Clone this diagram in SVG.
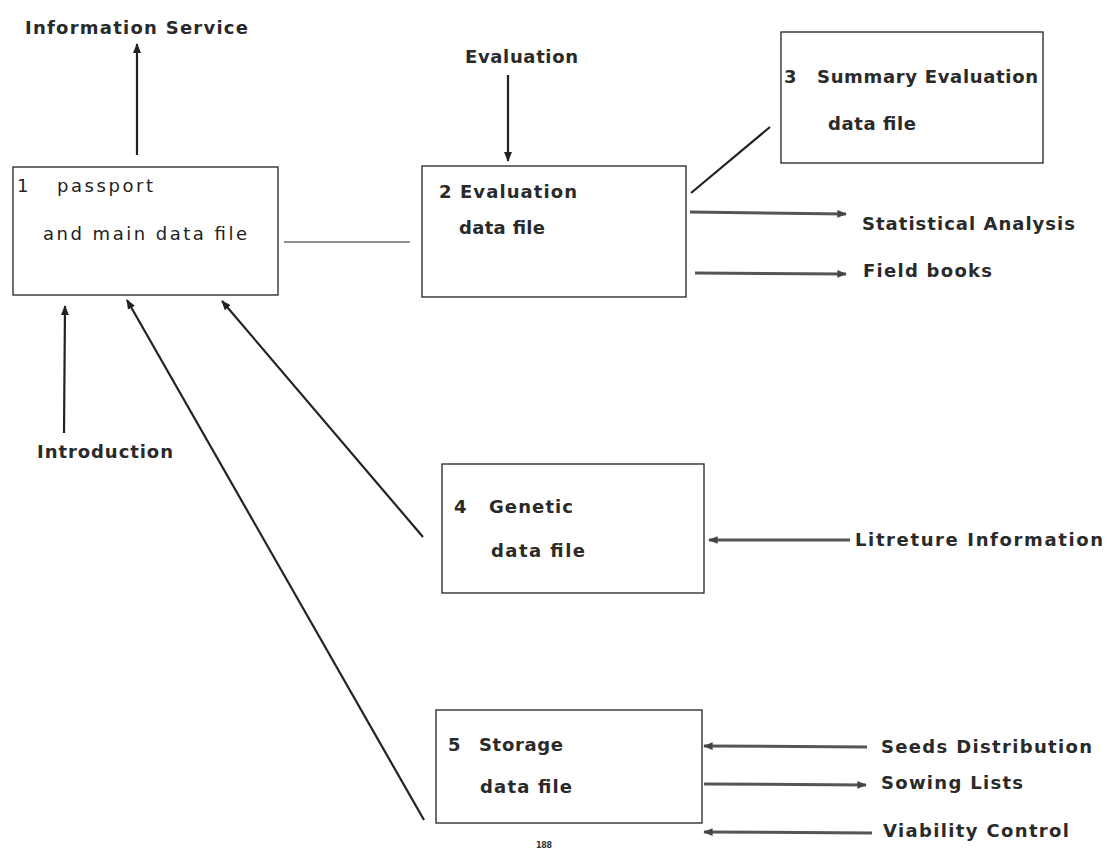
<svg xmlns="http://www.w3.org/2000/svg" width="1111" height="853" viewBox="0 0 1111 853">
<style>
.box{fill:none;stroke:#222;stroke-width:1.3}
.t{font-family:"DejaVu Sans","Liberation Sans",Arial,sans-serif;font-weight:bold;font-size:18px;fill:#2a2a2a}
.r{font-family:"DejaVu Sans","Liberation Sans",Arial,sans-serif;font-size:18px;fill:#222}
.ln{stroke:#222;stroke-width:2.2;fill:none}
.thin{stroke:#222;stroke-width:1.2;fill:none}
.g{stroke:#555;stroke-width:3;fill:none}
</style>
<defs>
<marker id="ah" viewBox="0 0 10 10" refX="9" refY="5" markerWidth="4.5" markerHeight="4.5" orient="auto" markerUnits="strokeWidth">
<path d="M0,1 L10,5 L0,9 z" fill="#222"/>
</marker>
<marker id="ag" viewBox="0 0 10 10" refX="9" refY="5" markerWidth="3.2" markerHeight="3.2" orient="auto" markerUnits="strokeWidth">
<path d="M0,1 L10,5 L0,9 z" fill="#444"/>
</marker>
</defs>
<rect width="1111" height="853" fill="#fff"/>
<g id="connectors">
<line class="ln" x1="137" y1="155" x2="137" y2="44" marker-end="url(#ah)"/>
<line class="ln" x1="508" y1="75" x2="508" y2="161" marker-end="url(#ah)"/>
<line class="thin" x1="284" y1="242" x2="410" y2="242"/>
<line class="ln" x1="691" y1="193" x2="770" y2="127"/>
<line class="g" x1="690" y1="212" x2="846" y2="214" marker-end="url(#ag)"/>
<line class="g" x1="695" y1="273" x2="846" y2="274" marker-end="url(#ag)"/>
<line class="ln" x1="64" y1="433" x2="65" y2="306" marker-end="url(#ah)"/>
<line class="ln" x1="423" y1="537" x2="222" y2="301" marker-end="url(#ah)"/>
<line class="ln" x1="424" y1="820" x2="127" y2="300" marker-end="url(#ah)"/>
<line class="g" x1="850" y1="540" x2="709" y2="540" marker-end="url(#ag)"/>
<line class="g" x1="867" y1="747" x2="704" y2="746" marker-end="url(#ag)"/>
<line class="g" x1="704" y1="784" x2="866" y2="785" marker-end="url(#ag)"/>
<line class="g" x1="872" y1="833" x2="704" y2="832" marker-end="url(#ag)"/>
</g>
<g id="labels">
<text class="t" x="25" y="34" textLength="223" lengthAdjust="spacing">Information Service</text>
<text class="t" x="465" y="63" textLength="113" lengthAdjust="spacing">Evaluation</text>
<text class="t" x="862" y="230" textLength="213" lengthAdjust="spacing">Statistical Analysis</text>
<text class="t" x="863" y="277" textLength="129" lengthAdjust="spacing">Field books</text>
<text class="t" x="37" y="458" textLength="136" lengthAdjust="spacing">Introduction</text>
<text class="t" x="855" y="546" textLength="248" lengthAdjust="spacing">Litreture Information</text>
<text class="t" x="881" y="753" textLength="211" lengthAdjust="spacing">Seeds Distribution</text>
<text class="t" x="881" y="789" textLength="142" lengthAdjust="spacing">Sowing Lists</text>
<text class="t" x="883" y="837" textLength="186" lengthAdjust="spacing">Viability Control</text>
<text x="536" y="848" font-family="DejaVu Sans,Arial,sans-serif" font-size="8" font-weight="bold" fill="#333" textLength="16" lengthAdjust="spacing">188</text>
</g>
<g id="node1">
<rect class="box" x="13" y="167" width="265" height="128"/>
<text class="r" x="17" y="192">1</text>
<text class="r" x="57" y="192" textLength="96" lengthAdjust="spacing">passport</text>
<text class="r" x="43" y="240" textLength="204" lengthAdjust="spacing">and main data file</text>
</g>
<g id="node2">
<rect class="box" x="422" y="166" width="264" height="131"/>
<text class="t" x="439" y="198" textLength="138" lengthAdjust="spacing">2 Evaluation</text>
<text class="t" x="459" y="234" textLength="86" lengthAdjust="spacing">data file</text>
</g>
<g id="node3">
<rect class="box" x="781" y="32" width="262" height="131"/>
<text class="t" x="784" y="83">3</text>
<text class="t" x="817" y="83" textLength="221" lengthAdjust="spacing">Summary Evaluation</text>
<text class="t" x="828" y="130" textLength="88" lengthAdjust="spacing">data file</text>
</g>
<g id="node4">
<rect class="box" x="442" y="464" width="262" height="129"/>
<text class="t" x="454" y="513">4</text>
<text class="t" x="489" y="513" textLength="84" lengthAdjust="spacing">Genetic</text>
<text class="t" x="491" y="557" textLength="94" lengthAdjust="spacing">data file</text>
</g>
<g id="node5">
<rect class="box" x="436" y="710" width="266" height="113"/>
<text class="t" x="448" y="751">5</text>
<text class="t" x="479" y="751" textLength="84" lengthAdjust="spacing">Storage</text>
<text class="t" x="480" y="793" textLength="92" lengthAdjust="spacing">data file</text>
</g>
</svg>
